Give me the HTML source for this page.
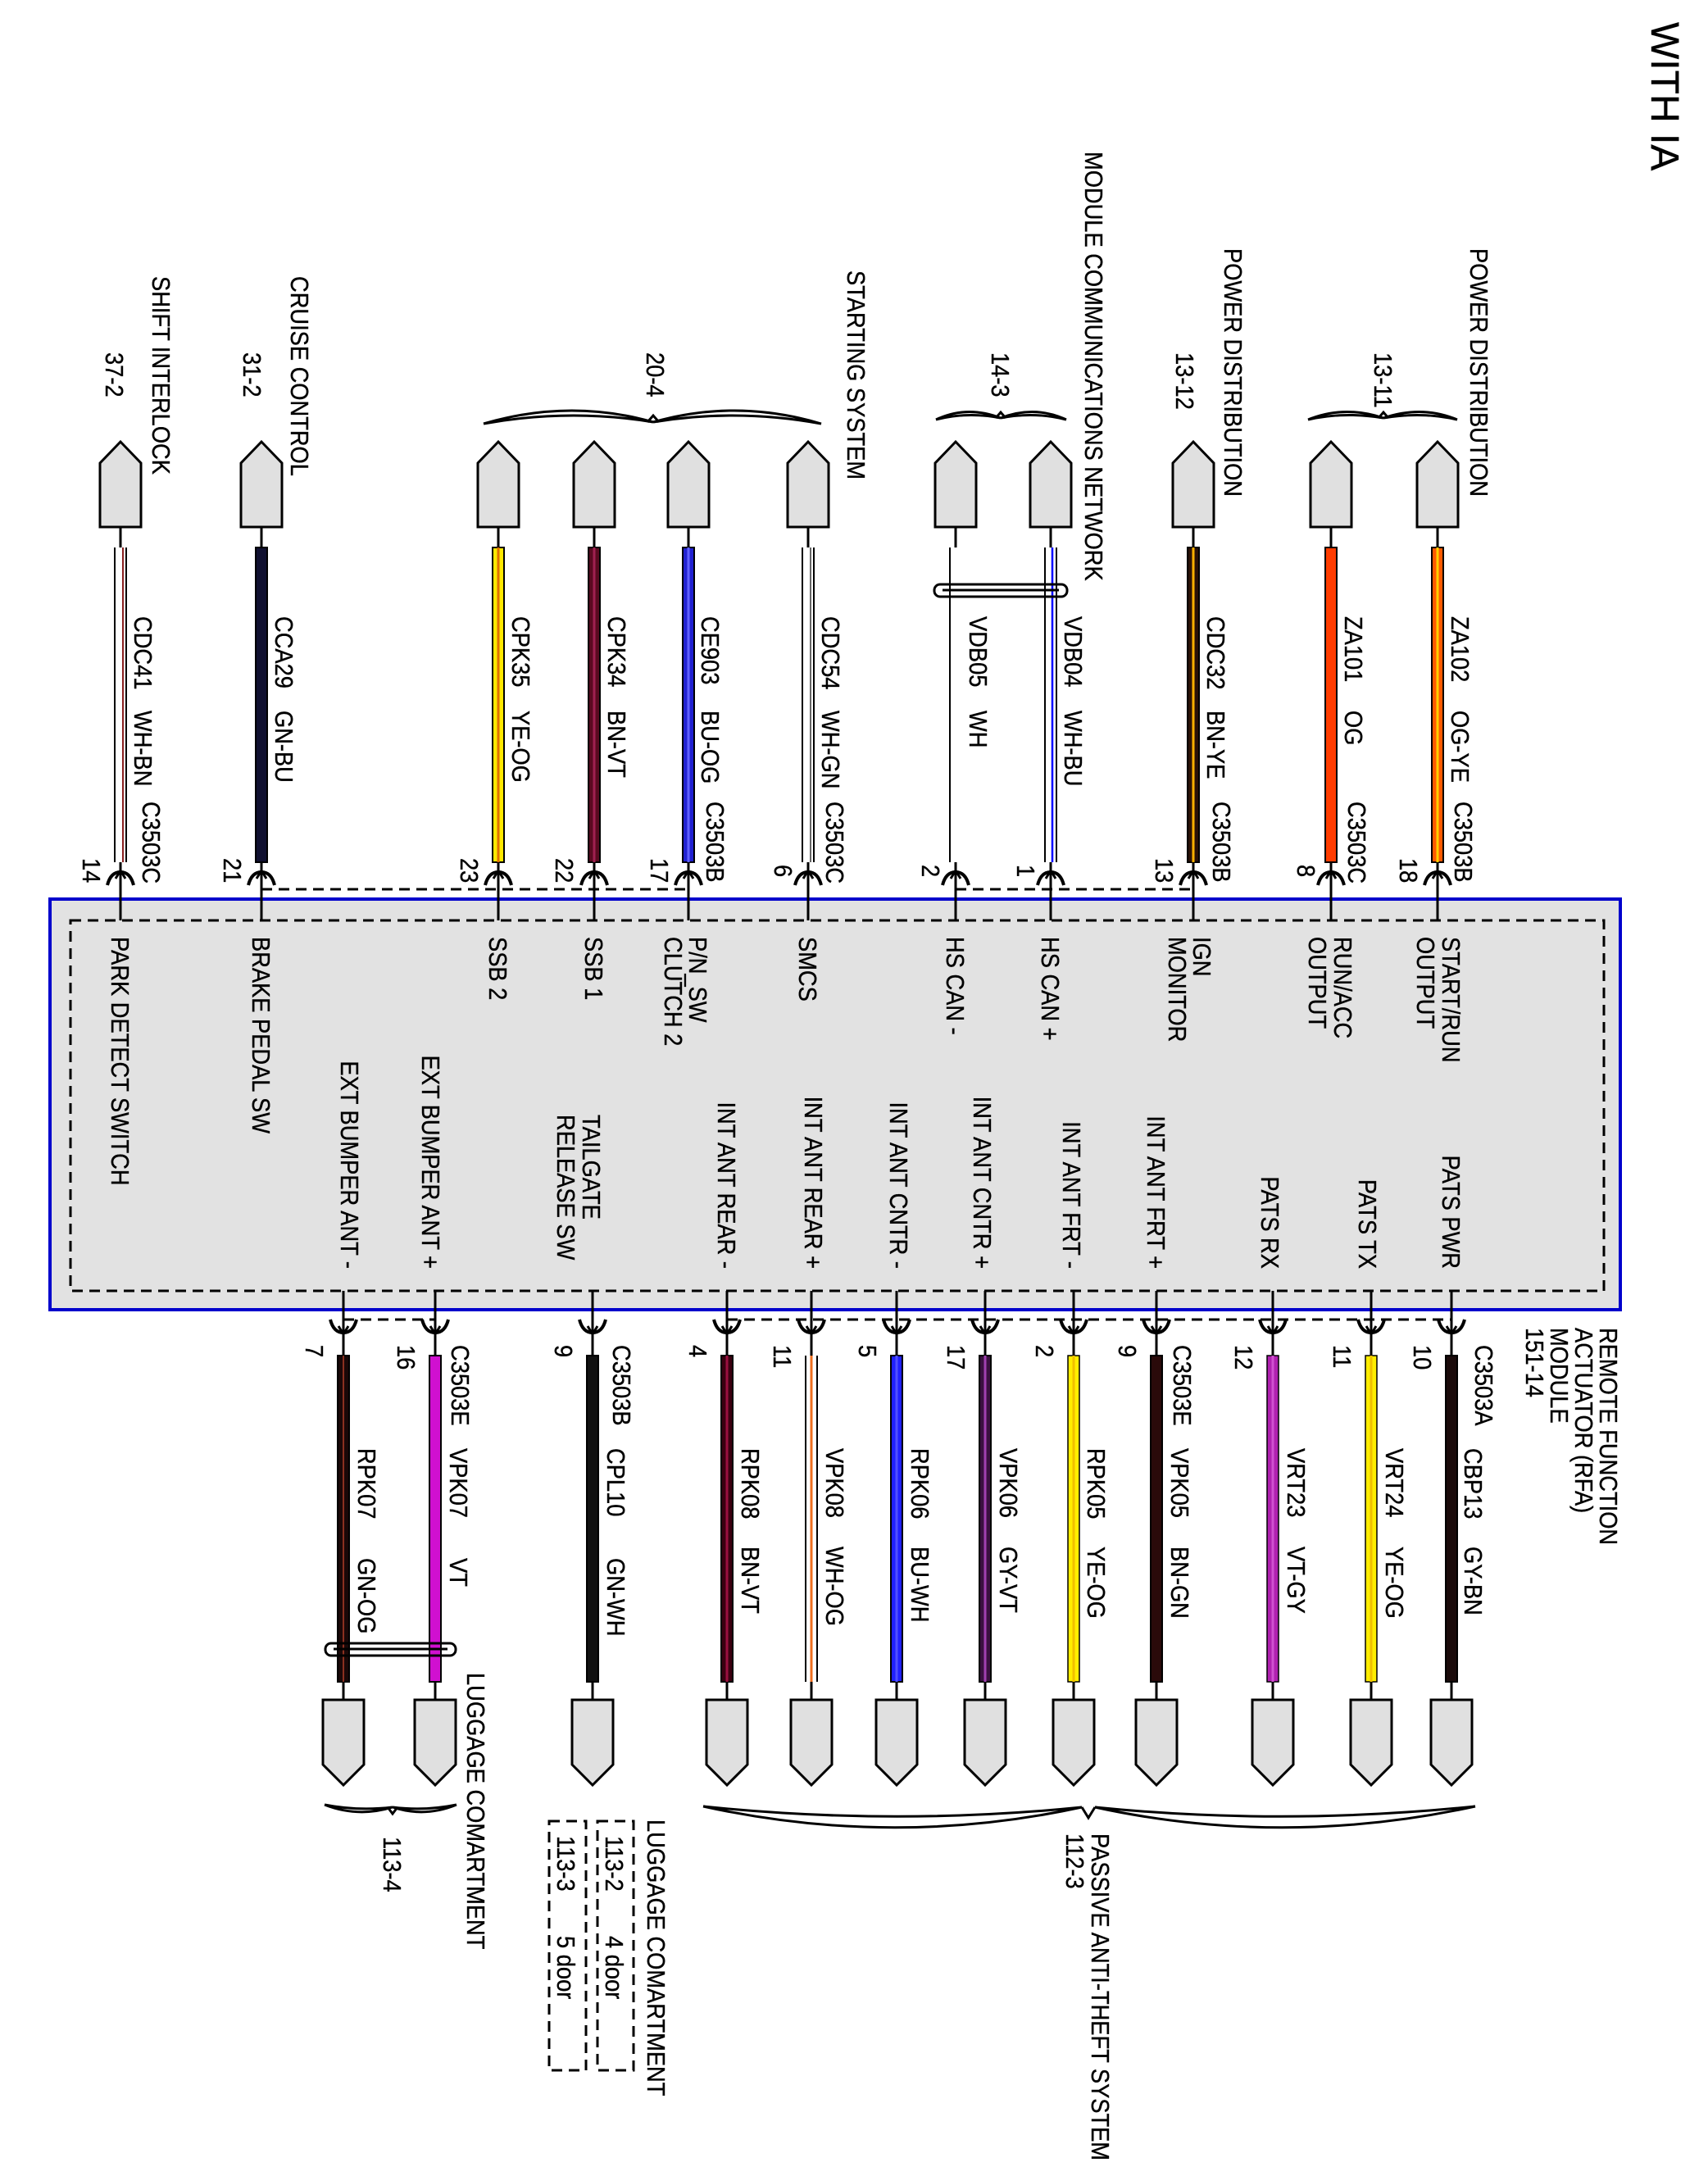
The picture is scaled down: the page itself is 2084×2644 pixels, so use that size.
<!DOCTYPE html>
<html><head><meta charset="utf-8"><style>
html,body{margin:0;padding:0;background:#fff;}
svg{display:block;}
text{font-family:"Liberation Sans",Arial,sans-serif;font-size:31px;fill:#000;stroke:#000;stroke-width:0.4px;}
.w{font-size:48px;}
</style></head><body>
<svg width="2084" height="2644" viewBox="0 0 2084 2644" xmlns="http://www.w3.org/2000/svg">
<defs>
<path id="cu" d="M-25 643 L-25 565 L0 539 L25 565 L25 643 Z" fill="#e0e0e0" stroke="#000" stroke-width="3"/>
<path id="cl" d="M-25 2074 L25 2074 L25 2153 L0 2178 L-25 2153 Z" fill="#e0e0e0" stroke="#000" stroke-width="3"/>
<g id="ru"><path d="M-16 1080 Q-12 1064 0 1064 Q12 1064 16 1080" fill="none" stroke="#000" stroke-width="4"/><path d="M-6 1072 L0 1062 L6 1072" fill="none" stroke="#000" stroke-width="3"/></g>
<g id="rl"><path d="M-16 1610 Q-12 1626 0 1626 Q12 1626 16 1610" fill="none" stroke="#000" stroke-width="4"/><path d="M-6 1618 L0 1628 L6 1618" fill="none" stroke="#000" stroke-width="3"/></g>
</defs>

<rect x="61" y="1097" width="1916" height="501" fill="#e2e2e2" stroke="#0000cc" stroke-width="4"/>
<rect x="86" y="1123" width="1871" height="452" fill="none" stroke="#000" stroke-width="3" stroke-dasharray="13,8"/>

<g stroke="#000" stroke-width="3" stroke-dasharray="13,8">
<line x1="319" y1="1085" x2="840" y2="1085"/>
<line x1="1166" y1="1085" x2="1456" y2="1085"/>
<line x1="419" y1="1610" x2="531" y2="1610"/>
<line x1="887" y1="1610" x2="1771" y2="1610"/>
</g>

<g stroke="#000" stroke-width="3">
<line x1="147" y1="643" x2="147" y2="1123"/><line x1="319" y1="643" x2="319" y2="1123"/>
<line x1="608" y1="643" x2="608" y2="1123"/><line x1="725" y1="643" x2="725" y2="1123"/>
<line x1="840" y1="643" x2="840" y2="1123"/><line x1="986" y1="643" x2="986" y2="1123"/>
<line x1="1166" y1="643" x2="1166" y2="1123"/><line x1="1282" y1="643" x2="1282" y2="1123"/>
<line x1="1456" y1="643" x2="1456" y2="1123"/><line x1="1624" y1="643" x2="1624" y2="1123"/>
<line x1="1754" y1="643" x2="1754" y2="1123"/>
</g>
<g stroke="#000" stroke-width="3">
<line x1="419" y1="1575" x2="419" y2="2074"/><line x1="531" y1="1575" x2="531" y2="2074"/>
<line x1="723" y1="1575" x2="723" y2="2074"/><line x1="887" y1="1575" x2="887" y2="2074"/>
<line x1="990" y1="1575" x2="990" y2="2074"/><line x1="1094" y1="1575" x2="1094" y2="2074"/>
<line x1="1202" y1="1575" x2="1202" y2="2074"/><line x1="1310" y1="1575" x2="1310" y2="2074"/>
<line x1="1411" y1="1575" x2="1411" y2="2074"/><line x1="1553" y1="1575" x2="1553" y2="2074"/>
<line x1="1673" y1="1575" x2="1673" y2="2074"/><line x1="1771" y1="1575" x2="1771" y2="2074"/>
</g>

<g>
<rect x="139" y="668" width="16" height="384" fill="#fff"/><line x1="140" y1="668" x2="140" y2="1052" stroke="#000" stroke-width="2"/><line x1="154" y1="668" x2="154" y2="1052" stroke="#000" stroke-width="2"/><line x1="150" y1="668" x2="150" y2="1052" stroke="#8a2020" stroke-width="2"/>
<rect x="312" y="668" width="14" height="384" fill="#101030" stroke="#000" stroke-width="2"/>
<rect x="601" y="668" width="14" height="384" fill="#ffe800" stroke="#000" stroke-width="2"/><rect x="606.5" y="668" width="3" height="384" fill="#e07000"/>
<rect x="718" y="668" width="14" height="384" fill="#5a0a20" stroke="#000" stroke-width="2"/><rect x="723.5" y="668" width="3" height="384" fill="#a02050"/>
<rect x="833" y="668" width="14" height="384" fill="#2020d0" stroke="#000" stroke-width="2"/><rect x="838.5" y="668" width="3" height="384" fill="#6060ff"/>
<rect x="978" y="668" width="16" height="384" fill="#fff"/><line x1="979" y1="668" x2="979" y2="1052" stroke="#000" stroke-width="2"/><line x1="993" y1="668" x2="993" y2="1052" stroke="#000" stroke-width="2"/><line x1="989" y1="668" x2="989" y2="1052" stroke="#666" stroke-width="2"/>
<rect x="1158" y="668" width="16" height="384" fill="#fff"/><line x1="1159" y1="668" x2="1159" y2="1052" stroke="#000" stroke-width="2"/>
<rect x="1274" y="668" width="16" height="384" fill="#fff"/><line x1="1275" y1="668" x2="1275" y2="1052" stroke="#000" stroke-width="2"/><line x1="1289" y1="668" x2="1289" y2="1052" stroke="#000" stroke-width="2"/><line x1="1284" y1="668" x2="1284" y2="1052" stroke="#0000ff" stroke-width="2.5"/>
<rect x="1449" y="668" width="14" height="384" fill="#2a1208" stroke="#000" stroke-width="2"/><rect x="1454.5" y="668" width="3" height="384" fill="#ffb000"/>
<rect x="1617" y="668" width="14" height="384" fill="#ff3c00" stroke="#000" stroke-width="2"/>
<rect x="1747" y="668" width="14" height="384" fill="#ff5a00" stroke="#000" stroke-width="2"/><rect x="1752.5" y="668" width="3" height="384" fill="#ffd000"/>
</g>
<g>
<rect x="412" y="1654" width="14" height="398" fill="#1a0808" stroke="#000" stroke-width="2"/><rect x="418" y="1654" width="2" height="398" fill="#8a3020"/>
<rect x="524" y="1654" width="14" height="398" fill="#d010d0" stroke="#000" stroke-width="2"/>
<rect x="716" y="1654" width="14" height="398" fill="#111" stroke="#000" stroke-width="2"/>
<rect x="880" y="1654" width="14" height="398" fill="#3a0010" stroke="#000" stroke-width="2"/><rect x="885.5" y="1654" width="3" height="398" fill="#9a1040"/>
<rect x="982" y="1654" width="16" height="398" fill="#fff"/><line x1="983" y1="1654" x2="983" y2="2052" stroke="#000" stroke-width="2"/><line x1="997" y1="1654" x2="997" y2="2052" stroke="#000" stroke-width="2"/><line x1="990" y1="1654" x2="990" y2="2052" stroke="#f07020" stroke-width="3"/>
<rect x="1087" y="1654" width="14" height="398" fill="#2020ff" stroke="#000" stroke-width="2"/><rect x="1092.5" y="1654" width="3" height="398" fill="#5050ff"/>
<rect x="1195" y="1654" width="14" height="398" fill="#3a1040" stroke="#000" stroke-width="2"/><rect x="1200.5" y="1654" width="3" height="398" fill="#a040b0"/>
<rect x="1303" y="1654" width="14" height="398" fill="#ffee00" stroke="#000" stroke-width="1.5"/><rect x="1308.5" y="1654" width="3" height="398" fill="#f0c000"/>
<rect x="1404" y="1654" width="14" height="398" fill="#2a0a0a" stroke="#000" stroke-width="2"/>
<rect x="1546" y="1654" width="14" height="398" fill="#b020b0" stroke="#000" stroke-width="1.5"/><rect x="1551.5" y="1654" width="3" height="398" fill="#d050d0"/>
<rect x="1666" y="1654" width="14" height="398" fill="#ffee00" stroke="#000" stroke-width="1.5"/><rect x="1671.5" y="1654" width="3" height="398" fill="#f0c000"/>
<rect x="1764" y="1654" width="14" height="398" fill="#1a0a0a" stroke="#000" stroke-width="2"/>
</g>

<rect x="1140" y="713" width="162" height="15" rx="7" fill="none" stroke="#000" stroke-width="3"/>
<line x1="1150" y1="720" x2="1292" y2="720" stroke="#000" stroke-width="3"/>
<rect x="397" y="2005" width="159" height="15" rx="7" fill="none" stroke="#000" stroke-width="3"/>
<line x1="407" y1="2012" x2="546" y2="2012" stroke="#000" stroke-width="3"/>

<use href="#cu" x="147"/><use href="#cu" x="319"/><use href="#cu" x="608"/><use href="#cu" x="725"/>
<use href="#cu" x="840"/><use href="#cu" x="986"/><use href="#cu" x="1166"/><use href="#cu" x="1282"/>
<use href="#cu" x="1456"/><use href="#cu" x="1624"/><use href="#cu" x="1754"/>
<use href="#cl" x="419"/><use href="#cl" x="531"/><use href="#cl" x="723"/><use href="#cl" x="887"/>
<use href="#cl" x="990"/><use href="#cl" x="1094"/><use href="#cl" x="1202"/><use href="#cl" x="1310"/>
<use href="#cl" x="1411"/><use href="#cl" x="1553"/><use href="#cl" x="1673"/><use href="#cl" x="1771"/>

<use href="#ru" x="147"/><use href="#ru" x="319"/><use href="#ru" x="608"/><use href="#ru" x="725"/>
<use href="#ru" x="840"/><use href="#ru" x="986"/><use href="#ru" x="1166"/><use href="#ru" x="1282"/>
<use href="#ru" x="1456"/><use href="#ru" x="1624"/><use href="#ru" x="1754"/>
<use href="#rl" x="419"/><use href="#rl" x="531"/><use href="#rl" x="723"/><use href="#rl" x="887"/>
<use href="#rl" x="990"/><use href="#rl" x="1094"/><use href="#rl" x="1202"/><use href="#rl" x="1310"/>
<use href="#rl" x="1411"/><use href="#rl" x="1553"/><use href="#rl" x="1673"/><use href="#rl" x="1771"/>

<g fill="none" stroke="#000" stroke-width="3">
<path d="M590 517 Q695 486 797 515 Q695 498 590 517"/><path d="M1002 517 Q899 486 797 515 Q899 498 1002 517"/><path d="M790 515 L797 507 L804 515"/>
<path d="M1142 512 Q1180 494 1221 510 Q1180 502 1142 512"/><path d="M1301 512 Q1262 494 1221 510 Q1262 502 1301 512"/><path d="M1215 510 L1221 503 L1227 510"/>
<path d="M1596 512 Q1640 494 1688 510 Q1640 502 1596 512"/><path d="M1778 512 Q1735 494 1688 510 Q1735 502 1778 512"/><path d="M1682 510 L1688 503 L1694 510"/>
<path d="M396 2202 Q437 2218 479 2205 Q437 2210 396 2202"/><path d="M557 2202 Q518 2218 479 2205 Q518 2210 557 2202"/><path d="M473 2205 L479 2213 L485 2205"/>
<path d="M858 2204 Q1090 2255 1320 2205 Q1090 2228 858 2204"/><path d="M1800 2204 Q1565 2255 1336 2205 Q1565 2228 1800 2204"/><path d="M1320 2205 L1328 2218 L1336 2205"/>
</g>

<rect x="670" y="2222" width="45" height="304" fill="none" stroke="#000" stroke-width="3" stroke-dasharray="13,8"/>
<rect x="729" y="2222" width="44" height="304" fill="none" stroke="#000" stroke-width="3" stroke-dasharray="13,8"/>

<text class="w" transform="translate(2015,27) rotate(90)">WITH IA</text>

<g>
<text transform="translate(129,430) rotate(90) scale(0.88,1)">37-2</text>
<text transform="translate(186,337) rotate(90) scale(0.88,1)">SHIFT INTERLOCK</text>
<text transform="translate(297,430) rotate(90) scale(0.88,1)">31-2</text>
<text transform="translate(355,337) rotate(90) scale(0.88,1)">CRUISE CONTROL</text>
<text transform="translate(789,430) rotate(90) scale(0.88,1)">20-4</text>
<text transform="translate(1034,330) rotate(90) scale(0.88,1)">STARTING SYSTEM</text>
<text transform="translate(1210,430) rotate(90) scale(0.88,1)">14-3</text>
<text transform="translate(1324,185) rotate(90) scale(0.88,1)">MODULE COMMUNICATIONS NETWORK</text>
<text transform="translate(1435,430) rotate(90) scale(0.88,1)">13-12</text>
<text transform="translate(1494,303) rotate(90) scale(0.88,1)">POWER DISTRIBUTION</text>
<text transform="translate(1677,430) rotate(90) scale(0.88,1)">13-11</text>
<text transform="translate(1794,303) rotate(90) scale(0.88,1)">POWER DISTRIBUTION</text>
</g>

<g>
<text transform="translate(164,752) rotate(90) scale(0.88,1)">CDC41</text><text transform="translate(164,867) rotate(90) scale(0.88,1)">WH-BN</text><text transform="translate(174,978) rotate(90) scale(0.88,1)">C3503C</text>
<text transform="translate(336,752) rotate(90) scale(0.88,1)">CCA29</text><text transform="translate(336,867) rotate(90) scale(0.88,1)">GN-BU</text>
<text transform="translate(625,752) rotate(90) scale(0.88,1)">CPK35</text><text transform="translate(625,867) rotate(90) scale(0.88,1)">YE-OG</text>
<text transform="translate(742,752) rotate(90) scale(0.88,1)">CPK34</text><text transform="translate(742,867) rotate(90) scale(0.88,1)">BN-VT</text>
<text transform="translate(856,752) rotate(90) scale(0.88,1)">CE903</text><text transform="translate(856,867) rotate(90) scale(0.88,1)">BU-OG</text><text transform="translate(862,978) rotate(90) scale(0.88,1)">C3503B</text>
<text transform="translate(1003,752) rotate(90) scale(0.88,1)">CDC54</text><text transform="translate(1003,867) rotate(90) scale(0.88,1)">WH-GN</text><text transform="translate(1008,978) rotate(90) scale(0.88,1)">C3503C</text>
<text transform="translate(1183,752) rotate(90) scale(0.88,1)">VDB05</text><text transform="translate(1183,867) rotate(90) scale(0.88,1)">WH</text>
<text transform="translate(1299,752) rotate(90) scale(0.88,1)">VDB04</text><text transform="translate(1299,867) rotate(90) scale(0.88,1)">WH-BU</text>
<text transform="translate(1473,752) rotate(90) scale(0.88,1)">CDC32</text><text transform="translate(1473,867) rotate(90) scale(0.88,1)">BN-YE</text><text transform="translate(1480,978) rotate(90) scale(0.88,1)">C3503B</text>
<text transform="translate(1641,752) rotate(90) scale(0.88,1)">ZA101</text><text transform="translate(1641,867) rotate(90) scale(0.88,1)">OG</text><text transform="translate(1645,978) rotate(90) scale(0.88,1)">C3503C</text>
<text transform="translate(1771,752) rotate(90) scale(0.88,1)">ZA102</text><text transform="translate(1771,867) rotate(90) scale(0.88,1)">OG-YE</text><text transform="translate(1775,978) rotate(90) scale(0.88,1)">C3503B</text>
</g>
<g>
<text transform="translate(101,1047) rotate(90) scale(0.88,1)">14</text>
<text transform="translate(273,1047) rotate(90) scale(0.88,1)">21</text>
<text transform="translate(562,1047) rotate(90) scale(0.88,1)">23</text>
<text transform="translate(678,1047) rotate(90) scale(0.88,1)">22</text>
<text transform="translate(794,1047) rotate(90) scale(0.88,1)">17</text>
<text transform="translate(945,1055) rotate(90) scale(0.88,1)">6</text>
<text transform="translate(1125,1055) rotate(90) scale(0.88,1)">2</text>
<text transform="translate(1241,1055) rotate(90) scale(0.88,1)">1</text>
<text transform="translate(1410,1047) rotate(90) scale(0.88,1)">13</text>
<text transform="translate(1583,1055) rotate(90) scale(0.88,1)">8</text>
<text transform="translate(1708,1047) rotate(90) scale(0.88,1)">18</text>
</g>
<g>
<text transform="translate(136,1143) rotate(90) scale(0.88,1)">PARK DETECT SWITCH</text>
<text transform="translate(308,1143) rotate(90) scale(0.88,1)">BRAKE PEDAL SW</text>
<text transform="translate(597,1143) rotate(90) scale(0.88,1)">SSB 2</text>
<text transform="translate(714,1143) rotate(90) scale(0.88,1)">SSB 1</text>
<text transform="translate(841,1143) rotate(90) scale(0.88,1)">P/N_SW<tspan x="0" dy="30">CLUTCH 2</tspan></text>
<text transform="translate(975,1143) rotate(90) scale(0.88,1)">SMCS</text>
<text transform="translate(1155,1143) rotate(90) scale(0.88,1)">HS CAN -</text>
<text transform="translate(1271,1143) rotate(90) scale(0.88,1)">HS CAN +</text>
<text transform="translate(1456,1143) rotate(90) scale(0.88,1)">IGN<tspan x="0" dy="30">MONITOR</tspan></text>
<text transform="translate(1628,1143) rotate(90) scale(0.88,1)">RUN/ACC<tspan x="0" dy="31">OUTPUT</tspan></text>
<text transform="translate(1760,1143) rotate(90) scale(0.88,1)">START/RUN<tspan x="0" dy="31">OUTPUT</tspan></text>
</g>
<g text-anchor="end">
<text transform="translate(416,1548) rotate(90) scale(0.88,1)">EXT BUMPER ANT -</text>
<text transform="translate(515,1548) rotate(90) scale(0.88,1)">EXT BUMPER ANT +</text>
<text transform="translate(876,1548) rotate(90) scale(0.88,1)">INT ANT REAR -</text>
<text transform="translate(982,1548) rotate(90) scale(0.88,1)">INT ANT REAR +</text>
<text transform="translate(1086,1548) rotate(90) scale(0.88,1)">INT ANT CNTR -</text>
<text transform="translate(1188,1548) rotate(90) scale(0.88,1)">INT ANT CNTR +</text>
<text transform="translate(1297,1548) rotate(90) scale(0.88,1)">INT ANT FRT -</text>
<text transform="translate(1400,1548) rotate(90) scale(0.88,1)">INT ANT FRT +</text>
<text transform="translate(1539,1548) rotate(90) scale(0.88,1)">PATS RX</text>
<text transform="translate(1658,1548) rotate(90) scale(0.88,1)">PATS TX</text>
<text transform="translate(1760,1548) rotate(90) scale(0.88,1)">PATS PWR</text>
</g>
<text transform="translate(711,1360) rotate(90) scale(0.88,1)">TAILGATE<tspan x="0" dy="31">RELEASE  SW</tspan></text>

<g>
<text transform="translate(373,1641) rotate(90) scale(0.88,1)">7</text>
<text transform="translate(485,1641) rotate(90) scale(0.88,1)">16</text>
<text transform="translate(677,1641) rotate(90) scale(0.88,1)">9</text>
<text transform="translate(841,1641) rotate(90) scale(0.88,1)">4</text>
<text transform="translate(944,1641) rotate(90) scale(0.88,1)">11</text>
<text transform="translate(1048,1641) rotate(90) scale(0.88,1)">5</text>
<text transform="translate(1156,1641) rotate(90) scale(0.88,1)">17</text>
<text transform="translate(1264,1641) rotate(90) scale(0.88,1)">2</text>
<text transform="translate(1365,1641) rotate(90) scale(0.88,1)">9</text>
<text transform="translate(1507,1641) rotate(90) scale(0.88,1)">12</text>
<text transform="translate(1627,1641) rotate(90) scale(0.88,1)">11</text>
<text transform="translate(1725,1641) rotate(90) scale(0.88,1)">10</text>
</g>
<g>
<text transform="translate(437,1767) rotate(90) scale(0.88,1)">RPK07</text><text transform="translate(437,1901) rotate(90) scale(0.88,1)">GN-OG</text>
<text transform="translate(549,1767) rotate(90) scale(0.88,1)">VPK07</text><text transform="translate(549,1901) rotate(90) scale(0.88,1)">VT</text><text transform="translate(551,1641) rotate(90) scale(0.88,1)">C3503E</text>
<text transform="translate(741,1767) rotate(90) scale(0.88,1)">CPL10</text><text transform="translate(741,1901) rotate(90) scale(0.88,1)">GN-WH</text><text transform="translate(748,1641) rotate(90) scale(0.88,1)">C3503B</text>
<text transform="translate(905,1767) rotate(90) scale(0.88,1)">RPK08</text><text transform="translate(905,1887) rotate(90) scale(0.88,1)">BN-VT</text>
<text transform="translate(1008,1767) rotate(90) scale(0.88,1)">VPK08</text><text transform="translate(1008,1887) rotate(90) scale(0.88,1)">WH-OG</text>
<text transform="translate(1112,1767) rotate(90) scale(0.88,1)">RPK06</text><text transform="translate(1112,1887) rotate(90) scale(0.88,1)">BU-WH</text>
<text transform="translate(1220,1767) rotate(90) scale(0.88,1)">VPK06</text><text transform="translate(1220,1887) rotate(90) scale(0.88,1)">GY-VT</text>
<text transform="translate(1327,1767) rotate(90) scale(0.88,1)">RPK05</text><text transform="translate(1327,1887) rotate(90) scale(0.88,1)">YE-OG</text>
<text transform="translate(1429,1767) rotate(90) scale(0.88,1)">VPK05</text><text transform="translate(1429,1887) rotate(90) scale(0.88,1)">BN-GN</text><text transform="translate(1432,1641) rotate(90) scale(0.88,1)">C3503E</text>
<text transform="translate(1571,1767) rotate(90) scale(0.88,1)">VRT23</text><text transform="translate(1571,1887) rotate(90) scale(0.88,1)">VT-GY</text>
<text transform="translate(1691,1767) rotate(90) scale(0.88,1)">VRT24</text><text transform="translate(1691,1887) rotate(90) scale(0.88,1)">YE-OG</text>
<text transform="translate(1787,1767) rotate(90) scale(0.88,1)">CBP13</text><text transform="translate(1787,1887) rotate(90) scale(0.88,1)">GY-BN</text><text transform="translate(1800,1641) rotate(90) scale(0.88,1)">C3503A</text>
</g>
<text transform="translate(1952,1620) rotate(90) scale(0.88,1)">REMOTE FUNCTION<tspan x="0" dy="30">ACTUATOR (RFA)</tspan><tspan x="0" dy="30">MODULE</tspan><tspan x="0" dy="30">151-14</tspan></text>

<text transform="translate(570,2041) rotate(90) scale(0.88,1)">LUGGAGE COMARTMENT</text>
<text transform="translate(468,2241) rotate(90) scale(0.88,1)">113-4</text>
<text transform="translate(790,2220) rotate(90) scale(0.88,1)">LUGGAGE COMARTMENT</text>
<text transform="translate(739,2240) rotate(90) scale(0.88,1)">113-2</text><text transform="translate(739,2362) rotate(90) scale(0.88,1)">4 door</text>
<text transform="translate(680,2240) rotate(90) scale(0.88,1)">113-3</text><text transform="translate(680,2362) rotate(90) scale(0.88,1)">5 door</text>
<text transform="translate(1332,2237) rotate(90) scale(0.88,1)">PASSIVE ANTI-THEFT SYSTEM<tspan x="0" dy="31">112-3</tspan></text>
</svg>
</body></html>
